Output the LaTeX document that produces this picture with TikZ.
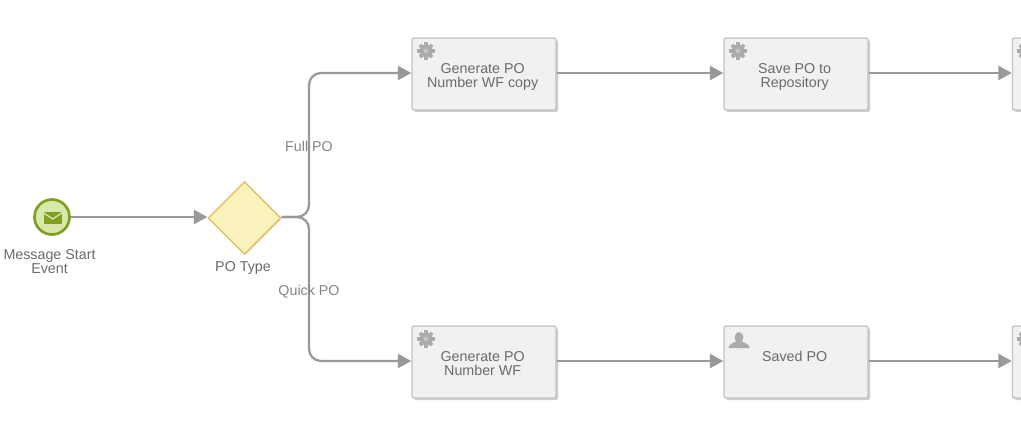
\documentclass[tikz,border=0pt]{standalone}
\usepackage{fontspec}
\setmainfont{Liberation Sans}
\usetikzlibrary{arrows.meta,shapes.geometric,shadows}
\definecolor{flowgrey}{HTML}{999999}
\definecolor{textgrey}{HTML}{6A6A6A}
\definecolor{labelgrey}{HTML}{858585}
\definecolor{taskfill}{HTML}{F1F1F1}
\definecolor{taskline}{HTML}{C4C4C4}
\definecolor{icongrey}{HTML}{ABABAB}
\definecolor{evfill}{HTML}{D7E8A8}
\definecolor{evline}{HTML}{7F9F22}
\definecolor{gwfill}{HTML}{FBF3BE}
\definecolor{gwline}{HTML}{E5BF62}
\newcommand\firstline{\rule{0pt}{12.5pt}\hspace*{-2pt}}
\newcommand\lastline{\rule[-2.5pt]{0pt}{2.5pt}\hspace*{-2pt}}
\tikzset{
  basefont/.style={font=\fontsize{10.7pt}{10.5pt}\selectfont, text=textgrey},
  softshadow/.style={general shadow={shadow xshift=1.5pt, shadow yshift=-1.5pt, fill=black, opacity=.2}},
  taskbox/.style={basefont, rectangle, rounded corners=1.5pt, draw=taskline, line width=1.1pt, fill=taskfill,
    minimum width=108pt, minimum height=54pt, inner sep=0pt, align=center, softshadow},
  startev/.style={circle, draw=evline, line width=2pt, fill=evfill, minimum size=26.25pt, inner sep=0pt,
    general shadow={shadow xshift=.6pt, shadow yshift=-.6pt, fill=black, opacity=.12}},
  gateway/.style={diamond, draw=gwline, line width=1.1pt, fill=gwfill, minimum width=54.75pt, minimum height=54.75pt, inner sep=0pt,
    general shadow={shadow xshift=.6pt, shadow yshift=-.6pt, fill=black, opacity=.12}},
  caption/.style={basefont, align=center, inner sep=0pt},
  flowlabel/.style={basefont, text=labelgrey, inner sep=0pt, anchor=base},
  flow/.style={draw=flowgrey, line width=1.7pt, -{Triangle[length=10pt,width=10.5pt]}},
  flowbend/.style={rounded corners=9pt},
  up/.style={yshift=0.75pt},
  gearicon/.pic={
    \fill[icongrey] (0,0) circle (6.4);
    \foreach \a in {0,45,...,315}
      \fill[icongrey, rotate=\a] (-1.9,-8.6) rectangle (1.9,0);
    \fill[taskfill, opacity=.35] (0,0) circle (2.4);
  },
  personicon/.pic={
    \fill[icongrey] (0,0) ellipse (4.4 and 5.4);
    \fill[icongrey] (-10.5,10.5) .. controls (-10.5,6) and (-5,6) .. (-2.5,3.5)
      -- (2.5,3.5) .. controls (5,6) and (10.5,6) .. (10.5,10.5) -- cycle;
  }
}
\begin{document}
\begin{tikzpicture}[x=0.75pt,y=-0.75pt]
\clip[use as bounding box] (0,0) rectangle (1021,442);
\fill[white] (0,0) rectangle (1021,442);

\node[startev] (ev) at (52,217) {};
\node[gateway] (gw) at (244.5,218) {};
\node[taskbox] (t1) at (484,74) {\firstline Generate PO\\\lastline Number WF copy};
\node[taskbox] (t2) at (796,74) {\firstline Save PO to\\\lastline Repository};
\node[taskbox] (t3) at (1084.5,74) {};
\node[taskbox] (b1) at (484,362) {\firstline Generate PO\\\lastline Number WF};
\node[taskbox] (b2) at (796,362) {\firstline Saved PO\\\lastline~};
\node[taskbox] (b3) at (1084.5,362) {};

\coordinate (lane) at (309,217);
\coordinate (t1in) at ([up]t1.west);
\coordinate (b1in) at ([up]b1.west);

\draw[flow] (ev.east) -- ([up]gw.west);
\draw[flow, flowbend] ([up]gw.east) -- (lane) -- (lane |- t1in) -- (t1in);
\draw[flow, flowbend] ([up]gw.east) -- (lane) -- (lane |- b1in) -- (b1in);
\draw[flow] ([up]t1.east) -- ([up]t2.west);
\draw[flow] ([up]t2.east) -- ([up]t3.west);
\draw[flow] ([up]b1.east) -- ([up]b2.west);
\draw[flow] ([up]b2.east) -- ([up]b3.west);

\node[flowlabel] (lfull) at (309,152) {Full PO};
\node[flowlabel] (lquick) at (309,295) {Quick PO};
\node[caption] (cev) at (49.5,261.5) {Message Start\\Event};
\node[flowlabel, text=textgrey] (cgw) at (243,271) {PO Type};

\pic at (426,51) {gearicon};
\pic at (738,51) {gearicon};
\pic at (1026,51) {gearicon};
\pic at (426,339) {gearicon};
\pic at (739,337.5) {personicon};
\pic at (1026,339) {gearicon};

\fill[evline] (43.5,212.5) rectangle (62,224);
\draw[evfill, line width=1pt] (43.5,212.8) -- (52.75,219) -- (62,212.8);
\end{tikzpicture}
\end{document}
